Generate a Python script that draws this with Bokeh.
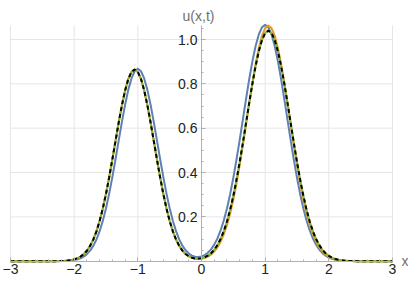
from bokeh.plotting import figure
from bokeh.models import Range1d, FixedTicker, Label, CustomJSTickFormatter
from bokeh.embed import file_html
from bokeh.resources import INLINE

# ---- data ----
x_vals = [-3.0, -2.8, -2.6, -2.4,
    -2.30, -2.25, -2.20, -2.15, -2.10, -2.05, -2.00, -1.95, -1.90, -1.85,
    -1.80, -1.75, -1.70, -1.65, -1.60, -1.55, -1.50, -1.45, -1.40, -1.35,
    -1.30, -1.25, -1.20, -1.15, -1.10, -1.05, -1.00, -0.95, -0.90, -0.85,
    -0.80, -0.75, -0.70, -0.65, -0.60, -0.55, -0.50, -0.45, -0.40, -0.35,
    -0.30, -0.25, -0.20, -0.15, -0.10, -0.05, 0.00, 0.05, 0.10, 0.15,
    0.20, 0.25, 0.30, 0.35, 0.40, 0.45, 0.50, 0.55, 0.60, 0.65,
    0.70, 0.75, 0.80, 0.85, 0.90, 0.95, 1.00, 1.05, 1.10, 1.15,
    1.20, 1.25, 1.30, 1.35, 1.40, 1.45, 1.50, 1.55, 1.60, 1.65,
    1.70, 1.75, 1.80, 1.85, 1.90, 1.95, 2.00, 2.05, 2.10, 2.15,
    2.20, 2.25, 2.30, 2.35, 2.40, 2.45, 2.50,
    2.6, 2.8, 3.0]

u_blue = [0.0, 0.0, 0.0, 0.0,
    0.0001, 0.0003, 0.0005, 0.0009, 0.0017, 0.0029, 0.0050, 0.0082, 0.0132, 0.0208,
    0.0318, 0.0475, 0.0691, 0.0979, 0.1352, 0.1819, 0.2386, 0.3049, 0.3798, 0.4611,
    0.5453, 0.6285, 0.7060, 0.7728, 0.8243, 0.8569, 0.8680, 0.8569, 0.8243, 0.7728,
    0.7060, 0.6285, 0.5453, 0.4611, 0.3798, 0.3049, 0.2387, 0.1821, 0.1355, 0.0984,
    0.0700, 0.0491, 0.0344, 0.0251, 0.0201, 0.0190, 0.0216, 0.0277, 0.0382, 0.0535,
    0.0747, 0.1027, 0.1386, 0.1835, 0.2380, 0.3024, 0.3763, 0.4587, 0.5475, 0.6400,
    0.7327, 0.8217, 0.9024, 0.9706, 1.0225, 1.0550, 1.0660, 1.0550, 1.0225, 0.9706,
    0.9024, 0.8217, 0.7327, 0.6400, 0.5475, 0.4587, 0.3763, 0.3024, 0.2380, 0.1835,
    0.1385, 0.1024, 0.0742, 0.0526, 0.0365, 0.0248, 0.0166, 0.0108, 0.0069, 0.0043,
    0.0026, 0.0016, 0.0009, 0.0005, 0.0003, 0.0002, 0.0001,
    0.0, 0.0, 0.0]

u_orange = [0.0, 0.0, 0.0, 0.0001,
    0.0003, 0.0005, 0.0009, 0.0017, 0.0029, 0.0049, 0.0082, 0.0132, 0.0207, 0.0317,
    0.0473, 0.0689, 0.0975, 0.1347, 0.1813, 0.2378, 0.3039, 0.3785, 0.4595, 0.5434,
    0.6264, 0.7036, 0.7701, 0.8215, 0.8539, 0.8650, 0.8539, 0.8215, 0.7701, 0.7036,
    0.6264, 0.5434, 0.4595, 0.3785, 0.3039, 0.2378, 0.1813, 0.1347, 0.0976, 0.0691,
    0.0476, 0.0323, 0.0217, 0.0150, 0.0112, 0.0099, 0.0109, 0.0143, 0.0204, 0.0298,
    0.0435, 0.0624, 0.0879, 0.1212, 0.1634, 0.2156, 0.2782, 0.3510, 0.4333, 0.5231,
    0.6177, 0.7134, 0.8058, 0.8903, 0.9621, 1.0169, 1.0513, 1.0630, 1.0513, 1.0169,
    0.9621, 0.8903, 0.8058, 0.7134, 0.6177, 0.5231, 0.4333, 0.3510, 0.2782, 0.2156,
    0.1634, 0.1212, 0.0879, 0.0623, 0.0432, 0.0293, 0.0195, 0.0126, 0.0080, 0.0050,
    0.0030, 0.0018, 0.0010, 0.0006, 0.0003, 0.0002, 0.0001,
    0.0, 0.0, 0.0]

u_green = [0.0, 0.0, 0.0, 0.0001,
    0.0003, 0.0005, 0.0009, 0.0017, 0.0029, 0.0049, 0.0082, 0.0132, 0.0207, 0.0317,
    0.0473, 0.0689, 0.0975, 0.1347, 0.1813, 0.2378, 0.3039, 0.3785, 0.4595, 0.5434,
    0.6264, 0.7036, 0.7701, 0.8215, 0.8539, 0.8650, 0.8539, 0.8215, 0.7701, 0.7036,
    0.6264, 0.5434, 0.4595, 0.3785, 0.3039, 0.2378, 0.1813, 0.1348, 0.0977, 0.0692,
    0.0478, 0.0326, 0.0222, 0.0158, 0.0124, 0.0116, 0.0134, 0.0179, 0.0251, 0.0361,
    0.0516, 0.0725, 0.0999, 0.1351, 0.1790, 0.2322, 0.2950, 0.3671, 0.4475, 0.5341,
    0.6244, 0.7149, 0.8016, 0.8804, 0.9470, 0.9976, 1.0292, 1.0400, 1.0292, 0.9976,
    0.9470, 0.8804, 0.8016, 0.7149, 0.6244, 0.5341, 0.4475, 0.3671, 0.2950, 0.2322,
    0.1790, 0.1351, 0.0999, 0.0724, 0.0513, 0.0356, 0.0242, 0.0162, 0.0105, 0.0067,
    0.0042, 0.0026, 0.0015, 0.0009, 0.0005, 0.0003, 0.0002,
    0.0, 0.0, 0.0]

u_black = [0.0, 0.0, 0.0, 0.0001,
    0.0003, 0.0005, 0.0009, 0.0017, 0.0029, 0.0049, 0.0082, 0.0132, 0.0207, 0.0317,
    0.0473, 0.0689, 0.0975, 0.1347, 0.1813, 0.2378, 0.3039, 0.3785, 0.4595, 0.5434,
    0.6264, 0.7036, 0.7701, 0.8215, 0.8539, 0.8650, 0.8539, 0.8215, 0.7701, 0.7036,
    0.6264, 0.5434, 0.4595, 0.3785, 0.3039, 0.2378, 0.1813, 0.1348, 0.0977, 0.0692,
    0.0478, 0.0326, 0.0222, 0.0158, 0.0124, 0.0116, 0.0134, 0.0179, 0.0251, 0.0361,
    0.0516, 0.0725, 0.0999, 0.1351, 0.1790, 0.2322, 0.2950, 0.3671, 0.4475, 0.5341,
    0.6244, 0.7149, 0.8016, 0.8804, 0.9470, 0.9976, 1.0292, 1.0400, 1.0292, 0.9976,
    0.9470, 0.8804, 0.8016, 0.7149, 0.6244, 0.5341, 0.4475, 0.3671, 0.2950, 0.2322,
    0.1790, 0.1351, 0.0999, 0.0724, 0.0513, 0.0356, 0.0242, 0.0162, 0.0105, 0.0067,
    0.0042, 0.0026, 0.0015, 0.0009, 0.0005, 0.0003, 0.0002,
    0.0, 0.0, 0.0]

x_ticks = [-3, -2, -1, 0, 1, 2, 3]
x_minor = [-3.0, -2.8, -2.6, -2.4, -2.2, -2.0, -1.8, -1.6, -1.4, -1.2, -1.0,
           -0.8, -0.6, -0.4, -0.2, 0.0, 0.2, 0.4, 0.6, 0.8, 1.0, 1.2, 1.4,
           1.6, 1.8, 2.0, 2.2, 2.4, 2.6, 2.8, 3.0]
x_grid = [-3, -2, -1, 1, 2, 3]
y_ticks = [0.2, 0.4, 0.6, 0.8, 1.0]
y_minor = [0.05, 0.1, 0.15, 0.2, 0.25, 0.3, 0.35, 0.4, 0.45, 0.5, 0.55, 0.6,
           0.65, 0.7, 0.75, 0.8, 0.85, 0.9, 0.95, 1.0, 1.05]
x_min, x_max = -3, 3
y_min, y_max = 0, 1.063
x_label = "x"
y_label = "u(x,t)"

FONT = "Liberation Sans"
AXIS_GRAY = "#b0b0b0"
GRID_GRAY = "#e6e6e6"

# frame covers whole canvas; ranges padded so labels sit inside the frame
W, H = 408, 282
LEFT, RIGHT = 10, 16          # px from canvas edge to x=-3 / x=3
Y0_PX, Y1_PX = 260.7, 39.0    # canvas px of y=0 and y=1
sx = (W - LEFT - RIGHT) / (x_max - x_min)
sy = (Y0_PX - Y1_PX)
xr = Range1d(x_min - LEFT / sx, x_max + RIGHT / sx)
yr = Range1d(-(H - Y0_PX) / sy, 1 + Y1_PX / sy)

p = figure(width=W, height=H, x_range=xr, y_range=yr,
           output_backend="svg", toolbar_location=None,
           min_border=0, min_border_left=0, min_border_right=0,
           min_border_top=0, min_border_bottom=0)
p.outline_line_color = None
p.background_fill_color = "white"
p.border_fill_color = "white"
p.grid.visible = False

# grid lines limited to the plot range
p.segment(x0=x_grid, y0=[y_min] * len(x_grid), x1=x_grid, y1=[y_max] * len(x_grid),
          line_color=GRID_GRAY, line_width=1)
p.segment(x0=[x_min] * len(y_ticks), y0=y_ticks, x1=[x_max] * len(y_ticks), y1=y_ticks,
          line_color=GRID_GRAY, line_width=1)

# axes through the origin
xa = p.xaxis[0]
ya = p.yaxis[0]
xa.fixed_location = 0
ya.fixed_location = 0
xa.bounds = (x_min, x_max)
ya.bounds = (y_min, y_max)
xa.ticker = FixedTicker(ticks=x_ticks, minor_ticks=x_minor)
ya.ticker = FixedTicker(ticks=y_ticks, minor_ticks=y_minor)
xa.formatter = CustomJSTickFormatter(
    code="return tick < 0 ? '\\u2212' + (-tick).toFixed(0) : tick.toFixed(0);")
ya.formatter = CustomJSTickFormatter(code="return tick.toFixed(1);")
for ax in (xa, ya):
    ax.axis_line_color = AXIS_GRAY
    ax.major_tick_line_color = AXIS_GRAY
    ax.minor_tick_line_color = AXIS_GRAY
    ax.major_tick_in = 4
    ax.major_tick_out = 0
    ax.minor_tick_in = 2
    ax.minor_tick_out = 0
    ax.major_label_text_font = FONT
    ax.major_label_text_font_size = "14px"
    ax.major_label_text_color = "#222222"
xa.major_label_standoff = 3
ya.major_label_standoff = 4

# curves
p.line(x_vals, u_blue, line_color="#5e81b5", line_width=2, line_join="round")
p.line(x_vals, u_orange, line_color="#e19c24", line_width=2, line_join="round")
p.line(x_vals, u_green, line_color="#8fb032", line_width=2, line_join="round")
p.line(x_vals, u_black, line_color="black", line_width=2, line_dash="4 3")

# axis labels
p.add_layout(Label(x=0, y=y_max, x_units="data", y_units="data", text=y_label,
                   text_align="center", text_baseline="alphabetic",
                   x_offset=-3, y_offset=10, text_font=FONT,
                   text_font_size="14px", text_color="#707070"))
p.add_layout(Label(x=x_max, y=0, x_units="data", y_units="data", text=x_label,
                   text_align="left", text_baseline="middle",
                   x_offset=9, y_offset=0, text_font=FONT,
                   text_font_size="14px", text_color="#707070"))

open("out.html", "w").write(file_html(p, INLINE))
